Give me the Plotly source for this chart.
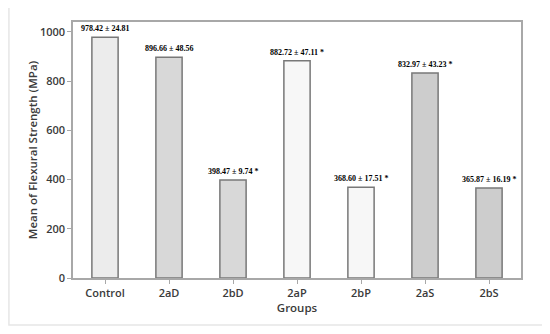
import plotly.graph_objects as go

groups = ["Control", "2aD", "2bD", "2aP", "2bP", "2aS", "2bS"]
means = [978.42, 896.66, 398.47, 882.72, 368.60, 832.97, 365.87]
labels = ["978.42 ± 24.81", "896.66 ± 48.56", "398.47 ± 9.74 *", "882.72 ± 47.11 *",
          "368.60 ± 17.51 *", "832.97 ± 43.23 *", "365.87 ± 16.19 *"]
colors = ["#ececec", "#d8d8d8", "#d8d8d8", "#f7f7f7", "#f7f7f7", "#cdcdcd", "#cdcdcd"]
y_ticks = [0, 200, 400, 600, 800, 1000]

fig = go.Figure()
fig.add_trace(go.Bar(
    x=groups, y=means, width=0.41,
    marker=dict(color=colors, line=dict(color="#787878", width=1.5)),
    showlegend=False,
))

for g, m, t in zip(groups, means, labels):
    fig.add_annotation(x=g, y=m, text="<b>" + t + "</b>", showarrow=False,
                       yanchor="bottom", yshift=2,
                       font=dict(family="Liberation Serif", size=8, color="#000000"))

fig.add_shape(type="rect", xref="paper", yref="paper", x0=-0.143, x1=1.049,
              y0=-0.1836, y1=1.06, line=dict(color="#e6e6e6", width=1.5),
              fillcolor="rgba(0,0,0,0)", layer="below")

tick_font = dict(family="Open Sans", size=11, color="#3a3a3a", weight=600)
title_font = dict(family="Open Sans", size=11.5, color="#3a3a3a", weight=600)
fig.update_layout(
    width=542, height=326,
    margin=dict(l=65, r=29, t=14, b=56, autoexpand=False),
    paper_bgcolor="white", plot_bgcolor="white",
    xaxis=dict(showline=True, linecolor="#a8a8a8", linewidth=1.5, mirror=True,
               ticks="outside", ticklen=4, tickcolor="#a8a8a8",
               tickfont=tick_font, automargin=False,
               title=dict(text="Groups", font=title_font, standoff=5)),
    yaxis=dict(range=[0, 1040], tickvals=y_ticks, showline=True, linecolor="#a8a8a8",
               linewidth=1.5, mirror=True, showgrid=False, zeroline=False,
               ticks="outside", ticklen=4, tickcolor="#a8a8a8",
               tickfont=tick_font, automargin=False,
               title=dict(text="Mean of Flexural Strength (MPa)", font=title_font, standoff=0)),
)

fig.write_html("out.html")
